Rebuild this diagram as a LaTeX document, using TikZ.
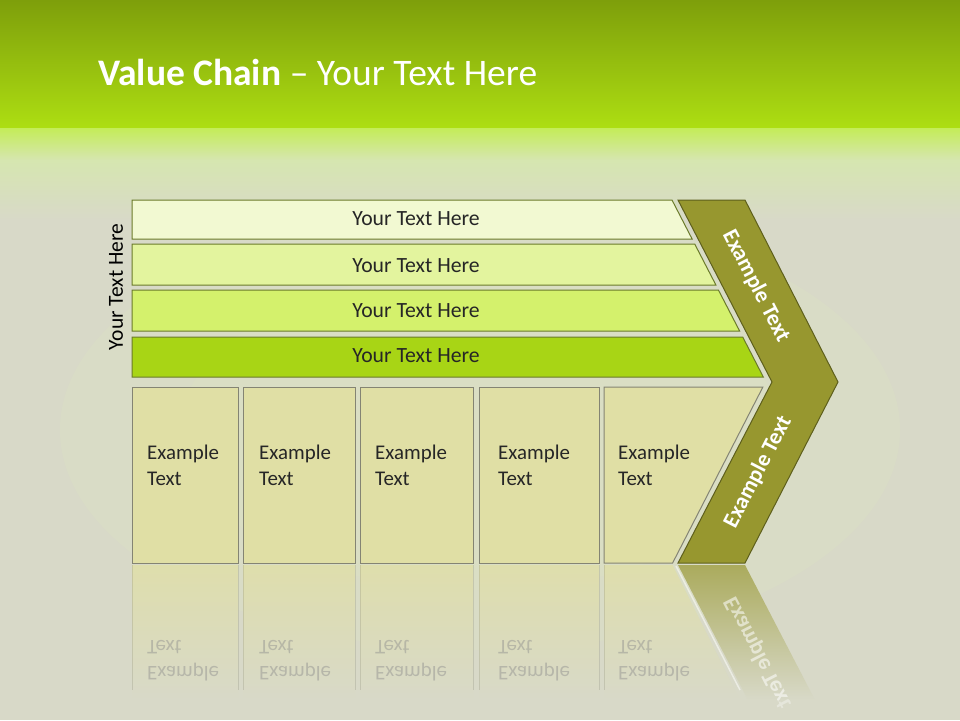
\documentclass[tikz,border=0pt]{standalone}
\usepackage{fontspec}
\setmainfont{Carlito}
\definecolor{gtop}{HTML}{7E9F0B}
\definecolor{gmid}{HTML}{ADDE12}
\definecolor{glight}{HTML}{C4EC58}
\definecolor{gpale}{HTML}{D6E6B0}
\definecolor{bgc}{HTML}{D8D9C8}
\definecolor{bgg}{HTML}{DDE5C2}
\definecolor{barline}{HTML}{6B7B2A}
\definecolor{barA}{HTML}{F2F9D2}
\definecolor{barB}{HTML}{E3F49E}
\definecolor{barC}{HTML}{D4F16C}
\definecolor{barD}{HTML}{A8D515}
\definecolor{boxfill}{HTML}{E0DFA5}
\definecolor{boxline}{HTML}{848473}
\definecolor{chev}{HTML}{97972F}
\definecolor{chevline}{HTML}{5E5F1C}
\definecolor{txt}{HTML}{262626}
\begin{document}
\begin{tikzpicture}[x=1pt,y=-1pt,
  barshape/.style={draw=barline, line width=1pt},
  boxshape/.style={draw=boxline, line width=1pt, fill=boxfill},
  bartext/.style={text=txt, font=\fontsize{21.7}{24}\selectfont, inner sep=0pt},
  boxtext/.style={text=txt, font=\fontsize{20.9}{26}\selectfont, align=left, anchor=west, inner sep=0pt},
  reftext/.style={text=black!45, opacity=0.45, font=\fontsize{20.9}{26}\selectfont, align=left, anchor=west, inner sep=0pt, yscale=-1},
  reflbox/.style={top color=boxfill!80!bgc, bottom color=bgc, draw=none},
  chevtext/.style={text=white, font=\bfseries\fontsize{22.5}{24}\selectfont, inner sep=0pt}]
\useasboundingbox (0,0) rectangle (960,720);
% background
\fill[bgc] (0,0) rectangle (960,720);
\shade[top color=gtop, bottom color=gmid] (0,0) rectangle (960,128);
\shade[top color=glight, bottom color=gpale] (0,128) rectangle (960,160);
\shade[top color=gpale, bottom color=bgc] (0,160) rectangle (960,220);
\fill[bgg, opacity=0.3] (480,430) ellipse (420 and 220);
\fill[bgg, opacity=0.25] (480,430) ellipse (300 and 160);
% title
\node[anchor=base west, text=white, font=\fontsize{37.5}{40}\selectfont, inner sep=0pt] (title) at (98,85) {\textbf{Value Chain} -- Your Text Here};
% side label
\node[rotate=90, text=black, font=\fontsize{21.5}{24}\selectfont, inner sep=0pt] (side) at (116,287) {Your Text Here};
% bars
\path[barshape, fill=barA] (132,200) -- (672,200) -- (692.1,239) -- (132,239) -- cycle;
\path[barshape, fill=barB] (132,244) -- (694.7,244) -- (715.9,285) -- (132,285) -- cycle;
\path[barshape, fill=barC] (132,290) -- (718.4,290) -- (739.6,331) -- (132,331) -- cycle;
\path[barshape, fill=barD] (132,337) -- (742.7,337) -- (763.3,377) -- (132,377) -- cycle;
\node[bartext] (b1) at (416,219) {Your Text Here};
\node[bartext] (b2) at (416,266) {Your Text Here};
\node[bartext] (b3) at (416,311) {Your Text Here};
\node[bartext] (b4) at (416,356) {Your Text Here};
% reflections
\shade[reflbox] (132,565) rectangle (238,700);
\shade[reflbox] (243,565) rectangle (355,700);
\shade[reflbox] (360,565) rectangle (473,700);
\shade[reflbox] (479,565) rectangle (599,700);
\shade[reflbox] (604,565) -- (672.6,565) -- (740,700) -- (604,700) -- cycle;
\shade[top color=chev!70!bgc, bottom color=bgc] (678,565) -- (745,565) -- (815,700) -- (748,700) -- cycle;
\foreach \xx in {132,238,243,355,360,473,479,599,604}{
  \draw[boxline, opacity=0.25, line width=1pt] (\xx,565) -- (\xx,690);}
\draw[white, opacity=0.5, line width=1.5pt] (676,566) -- (740,690);
\node[reftext] (r1) at (147,661) {Example\\Text};
\node[reftext] (r2) at (259,661) {Example\\Text};
\node[reftext] (r3) at (375,661) {Example\\Text};
\node[reftext] (r4) at (498,661) {Example\\Text};
\node[reftext] (r5) at (618,661) {Example\\Text};
\node[chevtext, opacity=0.55, rotate=-62.7, yscale=-1] (rc) at (758,653) {Example Text};
\fill[bgc, opacity=0.35] (0,700) rectangle (960,720);
% boxes
\path[boxshape] (132,387) rectangle (238,563);
\path[boxshape] (243,387) rectangle (355,563);
\path[boxshape] (360,387) rectangle (473,563);
\path[boxshape] (479,387) rectangle (599,563);
\path[boxshape] (604,387) -- (762.9,387) -- (672.6,563) -- (604,563) -- cycle;
\node[boxtext] (t1) at (147,465) {Example\\Text};
\node[boxtext] (t2) at (259,465) {Example\\Text};
\node[boxtext] (t3) at (375,465) {Example\\Text};
\node[boxtext] (t4) at (498,465) {Example\\Text};
\node[boxtext] (t5) at (618,465) {Example\\Text};
% chevron
\path[draw=chevline, line width=1pt, fill=chev] (678,200) -- (745,200) -- (838,382) -- (745,563) -- (678,563) -- (772,382) -- cycle;
\node[chevtext, rotate=-62.7] (c1) at (756,286) {Example Text};
\node[chevtext, rotate=62.7] (c2) at (758,472) {Example Text};
\end{tikzpicture}
\end{document}
